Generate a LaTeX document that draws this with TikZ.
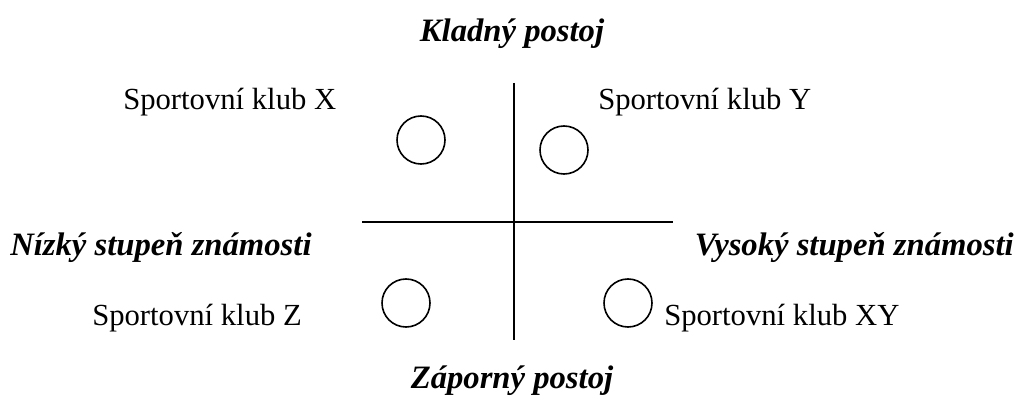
\documentclass[tikz,border=0pt]{standalone}
\usepackage{fontspec}
\setmainfont{Liberation Serif}
\begin{document}
\begin{tikzpicture}[x=0.75pt,y=-0.75pt,
  lbl/.style={inner sep=0pt,font=\fontsize{23}{27}\selectfont},
  hd/.style={inner sep=0pt,font=\fontsize{24.5}{28}\selectfont\bfseries\itshape},
  club/.style={circle,draw,line width=1.2pt,minimum size=36pt,inner sep=0pt},
  axis/.style={line width=1.2pt}]
\useasboundingbox (0,0) rectangle (1021,406);
\coordinate (vt) at (514,83);
\coordinate (vb) at (514,340);
\coordinate (hl) at (362,222);
\coordinate (hr) at (673,222);
\draw[axis] (vt) -- (vb);
\draw[axis] (hl) -- (hr);
\node[club] (cx) at (421,140) {};
\node[club] (cy) at (564,150) {};
\node[club] (cz) at (406,303) {};
\node[club] (cxy) at (628,303) {};
\node[hd,anchor=base] (top) at (512,42) {Kladný postoj};
\node[hd,anchor=base] (bot) at (512,388) {Záporný postoj};
\node[hd,anchor=base west] (low) at (10,255) {Nízký stupeň známosti};
\node[hd,anchor=base east] (high) at (1014,255) {Vysoký stupeň známosti};
\node[lbl,anchor=base west] (lx) at (123,110) {Sportovní klub X};
\node[lbl,anchor=base west] (ly) at (598,110) {Sportovní klub Y};
\node[lbl,anchor=base west] (lz) at (92,325) {Sportovní klub Z};
\node[lbl,anchor=base west] (lxy) at (664,325) {Sportovní klub XY};
\end{tikzpicture}
\end{document}
